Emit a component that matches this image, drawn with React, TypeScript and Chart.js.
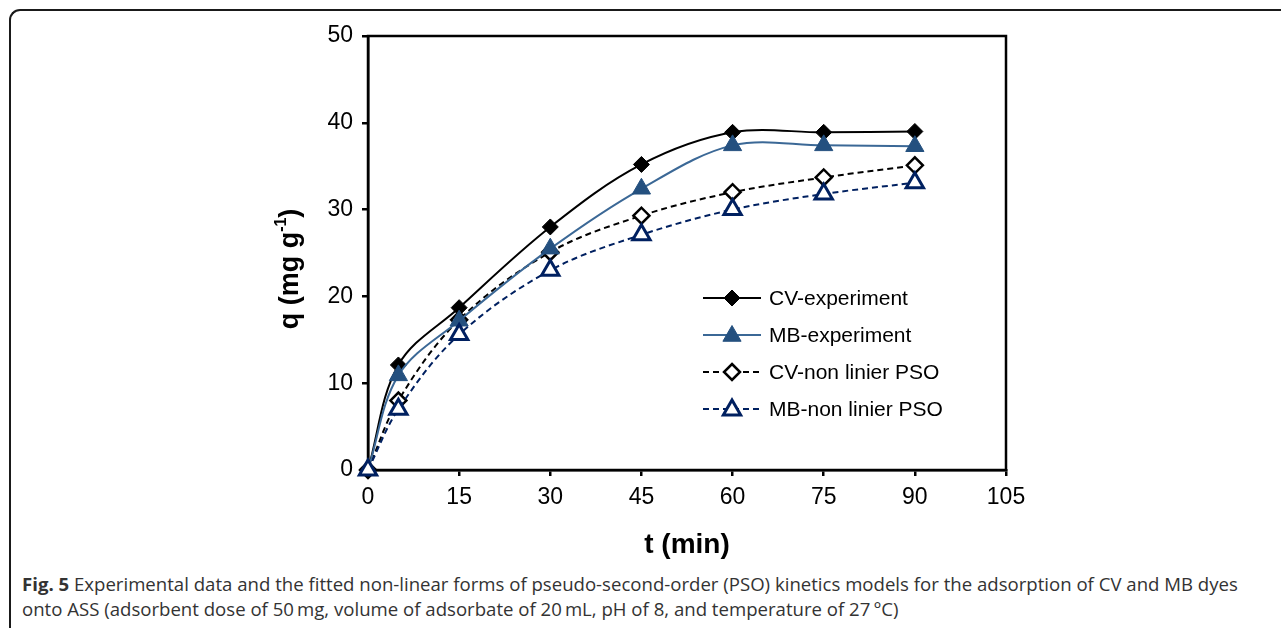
import React, { useEffect, useRef } from "react";
import { Chart, registerables } from "chart.js";

Chart.register(...registerables);

const times = [0, 5, 15, 30, 45, 60, 75, 90];
const cvExperiment = [0, 12.1, 18.7, 28.0, 35.2, 38.9, 38.9, 39.0];
const mbExperiment = [0, 10.9, 17.2, 25.5, 32.4, 37.4, 37.4, 37.3];
const cvPSO = [0, 8.0, 17.3, 25.1, 29.3, 32.0, 33.7, 35.1];
const mbPSO = [0, 7.0, 15.6, 23.0, 27.1, 30.0, 31.8, 33.1];
const seriesNames = ["CV-experiment", "MB-experiment", "CV-non linier PSO", "MB-non linier PSO"];
const xTitle = "t (min)";
const yTitleMain = "q (mg g";
const yTitleSup = "-1";
const yTitleEnd = ")";
const captionBold = "Fig. 5";
const captionLine1 = " Experimental data and the fitted non-linear forms of pseudo-second-order (PSO) kinetics models for the adsorption of CV and MB dyes";
const captionLine2 = "onto ASS (adsorbent dose of 50\u2009mg, volume of adsorbate of 20\u2009mL, pH of 8, and temperature of 27\u2009\u00b0C)";

const FONT = "'Liberation Sans', Arial, sans-serif";
const MB_BLUE = "#24507f";
const MB_LINE = "#3b6896";
const NAVY = "#002060";

function toPoints(vals: number[]) {
  return times.map((t, i) => ({ x: t, y: vals[i] }));
}

function drawMarker(ctx: CanvasRenderingContext2D, style: string, x: number, y: number, r: number, fill: string, stroke: string, lw: number) {
  ctx.save();
  ctx.beginPath();
  if (style === "rectRot") {
    ctx.moveTo(x, y - r);
    ctx.lineTo(x + r, y);
    ctx.lineTo(x, y + r);
    ctx.lineTo(x - r, y);
    ctx.closePath();
  } else {
    const half = (r * 1.732) / 2;
    ctx.moveTo(x, y - r);
    ctx.lineTo(x + half, y + r * 0.5);
    ctx.lineTo(x - half, y + r * 0.5);
    ctx.closePath();
  }
  ctx.fillStyle = fill;
  ctx.fill();
  if (lw > 0) {
    ctx.lineWidth = lw;
    ctx.strokeStyle = stroke;
    ctx.lineJoin = "miter";
    ctx.stroke();
  }
  ctx.restore();
}

export default function App() {
  const canvasRef = useRef<HTMLCanvasElement | null>(null);

  useEffect(() => {
    const canvas = canvasRef.current;
    if (!canvas) return;

    const frameAndLegend = {
      id: "frameAndLegend",
      beforeDatasetsDraw(chart: any) {
        const { ctx, chartArea } = chart;
        ctx.save();
        ctx.strokeStyle = "#000";
        ctx.lineWidth = 2.5;
        ctx.strokeRect(chartArea.left, chartArea.top, chartArea.right - chartArea.left, chartArea.bottom - chartArea.top);
        ctx.restore();
      },
      afterDraw(chart: any) {
        const { ctx } = chart;
        // y title with superscript
        ctx.save();
        ctx.translate(291, 269);
        ctx.rotate(-Math.PI / 2);
        const mainFont = `bold 27px ${FONT}`;
        const supFont = `bold 16px ${FONT}`;
        ctx.font = mainFont;
        const w1 = ctx.measureText(yTitleMain).width;
        const w3 = ctx.measureText(yTitleEnd).width;
        ctx.font = supFont;
        const w2 = ctx.measureText(yTitleSup).width;
        let x0 = -(w1 + w2 + w3) / 2;
        ctx.fillStyle = "#000";
        ctx.textBaseline = "middle";
        ctx.textAlign = "left";
        ctx.font = mainFont;
        ctx.fillText(yTitleMain, x0, 0);
        x0 += w1;
        ctx.font = supFont;
        ctx.fillText(yTitleSup, x0, -9);
        x0 += w2;
        ctx.font = mainFont;
        ctx.fillText(yTitleEnd, x0, 0);
        ctx.restore();

        // legend
        ctx.save();
        const ds = chart.data.datasets;
        for (let i = 0; i < ds.length; i++) {
          const d = ds[i];
          const y = 298 + 37 * i;
          ctx.beginPath();
          ctx.strokeStyle = d.borderColor;
          ctx.lineWidth = d.borderWidth;
          ctx.setLineDash(d.borderDash || []);
          ctx.moveTo(703, y);
          ctx.lineTo(761, y);
          ctx.stroke();
          ctx.setLineDash([]);
          drawMarker(ctx, d.pointStyle, 732, y + (d.pointStyle === "triangle" ? 1 : 0), d.pointRadius, d.pointBackgroundColor, d.pointBorderColor, d.pointBorderWidth);
          ctx.fillStyle = "#000";
          ctx.font = `21px ${FONT}`;
          ctx.textBaseline = "middle";
          ctx.textAlign = "left";
          ctx.fillText(d.label, 769, y + 1);
        }
        ctx.restore();
      },
    };

    const chart = new Chart(canvas, {
      type: "line",
      data: {
        datasets: [
          {
            label: seriesNames[0],
            data: toPoints(cvExperiment),
            borderColor: "#000",
            borderWidth: 2,
            pointStyle: "rectRot",
            pointRadius: 8,
            pointBackgroundColor: "#000",
            pointBorderColor: "#000",
            pointBorderWidth: 1,
            tension: 0.35,
            order: 3,
          } as any,
          {
            label: seriesNames[1],
            data: toPoints(mbExperiment),
            borderColor: MB_LINE,
            borderWidth: 2,
            pointStyle: "triangle",
            pointRadius: 10.5,
            pointBackgroundColor: MB_BLUE,
            pointBorderColor: MB_BLUE,
            pointBorderWidth: 1,
            tension: 0.35,
            order: 2,
          } as any,
          {
            label: seriesNames[2],
            data: toPoints(cvPSO),
            borderColor: "#000",
            borderWidth: 2,
            borderDash: [6, 4],
            pointStyle: "rectRot",
            pointRadius: 8,
            pointBackgroundColor: "#fff",
            pointBorderColor: "#000",
            pointBorderWidth: 2.5,
            tension: 0.35,
            order: 4,
          } as any,
          {
            label: seriesNames[3],
            data: toPoints(mbPSO),
            borderColor: NAVY,
            borderWidth: 2,
            borderDash: [6, 4],
            pointStyle: "triangle",
            pointRadius: 10,
            pointBackgroundColor: "#fff",
            pointBorderColor: NAVY,
            pointBorderWidth: 3,
            tension: 0.35,
            order: 1,
          } as any,
        ],
      },
      options: {
        animation: false,
        responsive: false,
        clip: false as any,
        layout: { padding: { left: 268, top: 36, right: 275, bottom: 8 } },
        plugins: { legend: { display: false }, tooltip: { enabled: false } },
        scales: {
          x: {
            type: "linear",
            min: 0,
            max: 105,
            afterFit(scale: any) { scale.height = 92; },
            ticks: { stepSize: 15, color: "#000", font: { family: FONT, size: 23 }, padding: 8, maxRotation: 0 },
            grid: { display: true, drawOnChartArea: false, drawTicks: true, tickLength: 6, color: "#000", lineWidth: 2.5 },
            border: { display: true, color: "#000", width: 2.5 },
            title: { display: true, text: xTitle, color: "#000", font: { family: FONT, size: 28, weight: "bold" }, padding: { top: 10, bottom: 0 } },
          },
          y: {
            type: "linear",
            min: 0,
            max: 50,
            afterFit(scale: any) { scale.width = 100; },
            ticks: { stepSize: 10, color: "#000", font: { family: FONT, size: 23 }, padding: 9 },
            grid: { display: true, drawOnChartArea: false, drawTicks: true, tickLength: 6, color: "#000", lineWidth: 2.5 },
            border: { display: true, color: "#000", width: 2.5 },
          },
        },
      },
      plugins: [frameAndLegend],
    });

    return () => chart.destroy();
  }, []);

  return (
    <div style={{ position: "fixed", left: 0, top: 0, width: 1281, height: 628, overflow: "hidden", background: "#fff" }}>
      <div
        style={{
          position: "absolute",
          left: 9,
          top: 9,
          width: 1500,
          height: 800,
          borderLeft: "2px solid #1a1a1a",
          borderTop: "2px solid #1a1a1a",
          borderTopLeftRadius: 11,
        }}
      />
      <canvas ref={canvasRef} width={1281} height={570} style={{ position: "absolute", left: 0, top: 0 }} />
      <div
        style={{
          position: "absolute",
          left: 22,
          top: 571,
          fontFamily: "'Open Sans', 'Noto Sans', sans-serif",
          fontSize: 18.6,
          lineHeight: "25px",
          color: "#333333",
          whiteSpace: "nowrap",
        }}
      >
        <div>
          <b>{captionBold}</b>
          {captionLine1}
        </div>
        <div>{captionLine2}</div>
      </div>
    </div>
  );
}
